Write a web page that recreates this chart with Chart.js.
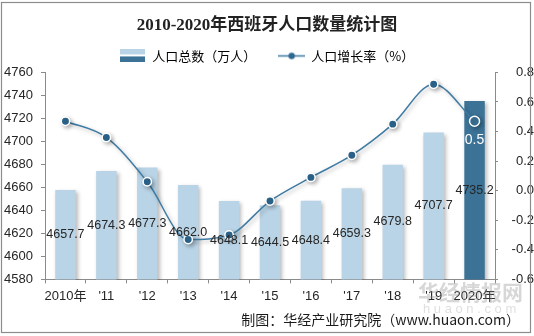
<!DOCTYPE html>
<html>
<head>
<meta charset="utf-8">
<script src="https://cdn.jsdelivr.net/npm/chart.js@4.4.1/dist/chart.umd.min.js"></script>
<style>
  html, body { margin: 0; padding: 0; background: #fff; }
  #wrap { width: 534px; height: 336px; position: relative; }
</style>
</head>
<body>
<div id="wrap"><canvas id="myChart" width="534" height="336"></canvas></div>
<script>
// data
var years = ["2010年", "'11", "'12", "'13", "'14", "'15", "'16", "'17", "'18", "'19", "2020年"];
var population = [4657.7, 4674.3, 4677.3, 4662.0, 4648.1, 4644.5, 4648.4, 4659.3, 4679.8, 4707.7, 4735.2];
var growth = [0.47, 0.36, 0.06, -0.33, -0.30, -0.07, 0.09, 0.24, 0.45, 0.72, 0.47];
var popTicks = [4580, 4760, 20];
var rateTicks = [-0.6, 0.8, 0.2];

var lightBlue = "#b9d4e6";
var darkBlue = "#3b7296";
var lineBlue = "#3f7ba2";
var axisGray = "#8a8a8a";

var barColors = population.map(function (v, i) {
    return i == population.length - 1 ? darkBlue : lightBlue;
});

// legend icons
function barIcon() {
    var c = document.createElement("canvas");
    c.width = 25; c.height = 13;
    var g = c.getContext("2d");
    g.fillStyle = lightBlue; g.fillRect(0, 0, 25, 5);
    g.fillStyle = darkBlue; g.fillRect(0, 7, 25, 6);
    return c;
}
function lineIcon() {
    var c = document.createElement("canvas");
    c.width = 27; c.height = 9;
    var g = c.getContext("2d");
    g.strokeStyle = lineBlue; g.lineWidth = 1.5;
    g.beginPath(); g.moveTo(0, 4.5); g.lineTo(27, 4.5); g.stroke();
    g.fillStyle = "#2f6891";
    g.beginPath(); g.arc(13.5, 4.5, 3.2, 0, Math.PI * 2); g.fill();
    return c;
}

var shadowPlugin = {
    id: "shadows",
    beforeDatasetDraw: function (chart, args) {
        var ctx = chart.ctx;
        ctx.save();
        ctx.shadowColor = "rgba(0,0,0,0.28)";
        ctx.shadowBlur = 4;
        ctx.shadowOffsetX = 2;
        ctx.shadowOffsetY = 2;
    },
    afterDatasetDraw: function (chart, args) {
        chart.ctx.restore();
    }
};

var labelPlugin = {
    id: "labels",
    afterDatasetsDraw: function (chart) {
        var ctx = chart.ctx;
        var xs = chart.scales.x, ys = chart.scales.y, ys1 = chart.scales.y1;
        ctx.save();
        ctx.textAlign = "center";
        ctx.textBaseline = "middle";
        // bar values in the middle of each bar
        ctx.font = "12.5px 'Liberation Sans', Arial, sans-serif";
        ctx.fillStyle = "#262626";
        population.forEach(function (v, i) {
            var x = xs.getPixelForValue(i);
            var top = ys.getPixelForValue(v);
            ctx.fillText(v.toFixed(1), x, (top + ys.bottom) / 2);
        });
        // last growth value only
        var n = growth.length - 1;
        ctx.font = "14px 'Liberation Sans', Arial, sans-serif";
        ctx.fillStyle = "#ffffff";
        ctx.fillText(growth[n].toFixed(1), xs.getPixelForValue(n), ys1.getPixelForValue(growth[n]) + 19);
        ctx.restore();
    },
    afterDraw: function (chart) {
        var ctx = chart.ctx;
        ctx.save();
        // watermark
        ctx.fillStyle = "rgba(140,140,140,0.35)";
        ctx.font = "bold 21px 'Noto Sans CJK SC', sans-serif";
        ctx.textAlign = "left";
        ctx.textBaseline = "middle";
        ctx.fillText("华经情报网", 418, 292);
        ctx.font = "13px 'Liberation Sans', sans-serif";
        ctx.fillStyle = "rgba(150,150,150,0.3)";
        ctx.fillText("h u a o n . c o m", 423, 309);
        // source line
        ctx.fillStyle = "#1a1a1a";
        ctx.font = "14px 'Noto Sans CJK SC', sans-serif";
        ctx.textAlign = "right";
        ctx.fillText("制图：华经产业研究院（www.huaon.com）", 520, 320);
        // frame
        ctx.strokeStyle = "#8c8c8c";
        ctx.lineWidth = 1.2;
        ctx.strokeRect(1.5, 2.5, 529, 330);
        ctx.restore();
    }
};

const chart = new Chart("myChart", {
    type: "bar",
    data: {
        labels: years,
        datasets: [{
            type: "bar",
            label: "人口总数（万人）",
            data: population,
            backgroundColor: barColors,
            yAxisID: "y",
            order: 1,
            barPercentage: 0.5,
            categoryPercentage: 1.0
        }, {
            type: "line",
            label: "人口增长率（%）",
            data: growth,
            yAxisID: "y1",
            order: 0,
            borderColor: lineBlue,
            borderWidth: 1.5,
            cubicInterpolationMode: "monotone",
            pointRadius: growth.map(function (v, i) { return i == growth.length - 1 ? 5 : 4.2; }),
            pointBackgroundColor: growth.map(function (v, i) { return i == growth.length - 1 ? darkBlue : "#2f6891"; }),
            pointBorderColor: "#ffffff",
            pointBorderWidth: 1.5
        }]
    },
    options: {
        responsive: false,
        animation: false,
        layout: { padding: { left: 0, right: 0, top: 0, bottom: 27 } },
        plugins: {
            title: {
                display: true,
                text: "2010-2020年西班牙人口数量统计图",
                color: "#222",
                font: { size: 17, weight: "bold", family: "'Liberation Serif', 'Noto Sans CJK SC', serif" },
                padding: { top: 15, bottom: 4 }
            },
            legend: {
                display: true,
                labels: {
                    usePointStyle: true,
                    pointStyleWidth: 26,
                    boxHeight: 12,
                    padding: 10,
                    color: "#222",
                    font: { size: 13, family: "'Noto Sans CJK SC', sans-serif" },
                    generateLabels: function (c) {
                        return [
                            { text: "人口总数（万人）\u3000  ", pointStyle: barIcon(), fillStyle: lightBlue, strokeStyle: "transparent", lineWidth: 0, datasetIndex: 0 },
                            { text: "人口增长率（%）", pointStyle: lineIcon(), fillStyle: lineBlue, strokeStyle: "transparent", lineWidth: 0, datasetIndex: 1 }
                        ];
                    }
                }
            },
            tooltip: { enabled: false }
        },
        scales: {
            x: {
                grid: { display: true, drawOnChartArea: false, drawTicks: true, tickLength: 4, color: axisGray, offset: true },
                border: { display: true, color: axisGray, width: 1 },
                ticks: { color: "#262626", padding: 5, font: { size: 13, family: "'Liberation Sans', 'Noto Sans CJK SC', sans-serif" }, maxRotation: 0, autoSkip: false }
            },
            y: {
                position: "left",
                min: popTicks[0],
                max: popTicks[1],
                afterFit: function (s) { s.width = 45; },
                grid: { drawOnChartArea: false, drawTicks: true, tickLength: 4, color: axisGray },
                border: { display: true, color: axisGray, width: 1 },
                ticks: {
                    stepSize: popTicks[2], color: "#262626", padding: 8,
                    font: { size: 13, family: "'Liberation Sans', sans-serif" },
                    callback: function (v) { return String(v); }
                }
            },
            y1: {
                position: "right",
                min: rateTicks[0],
                max: rateTicks[1],
                afterFit: function (s) { s.width = 39; },
                grid: { drawOnChartArea: false, drawTicks: true, tickLength: 3, color: axisGray },
                border: { display: true, color: axisGray, width: 1 },
                ticks: {
                    stepSize: rateTicks[2], color: "#262626", padding: 2, crossAlign: "far",
                    font: { size: 13, family: "'Liberation Sans', sans-serif" },
                    callback: function (v) { return Number(v).toFixed(1); }
                }
            }
        }
    },
    plugins: [shadowPlugin, labelPlugin]
});
</script>
</body>
</html>
